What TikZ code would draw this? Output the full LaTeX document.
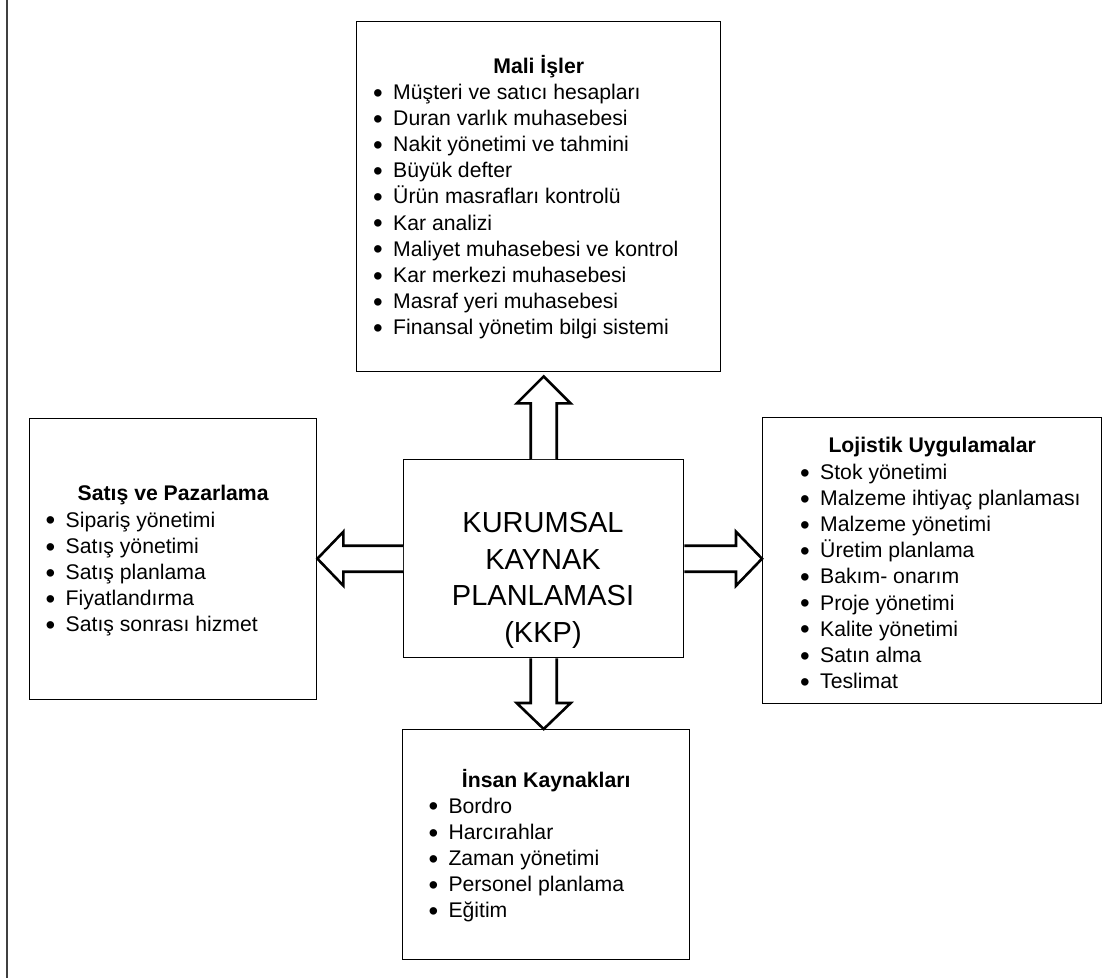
\documentclass[tikz,border=0pt]{standalone}
\usepackage{fontspec}
\setmainfont{Liberation Sans}
\usetikzlibrary{calc}
\newcommand{\listdot}{\makebox[20pt][l]{\raisebox{-2.8pt}{\scalebox{1.3}{•}}}}
\begin{document}
\begin{tikzpicture}[x=1pt,y=-1pt,
  panel/.style={draw=black, line width=1.4pt, fill=white, inner sep=0pt, anchor=north west},
  itemtext/.style={anchor=base west, inner sep=0pt, font=\fontsize{21.2}{26}\selectfont},
  titletext/.style={anchor=base, inner sep=0pt, font=\fontsize{21.2}{26}\selectfont\bfseries},
  centertext/.style={anchor=base, inner sep=0pt, font=\fontsize{29}{36}\selectfont},
  blockarrow/.style={draw=black, line width=2.6pt, fill=white, line join=miter}]
\useasboundingbox (0,0) rectangle (1110,978);

% page rule on the left
\draw[line width=2pt, black!75] (6.7,0) -- (6.7,978);

% panels
\node[panel, minimum width=364pt, minimum height=350pt] (mali) at (356,21) {};
\node[panel, minimum width=287pt, minimum height=281pt] (sales) at (29,418) {};
\node[panel, minimum width=280pt, minimum height=198pt] (kkp) at (403,459) {};
\node[panel, minimum width=339pt, minimum height=286pt] (logi) at (762,417) {};
\node[panel, minimum width=287pt, minimum height=230pt] (hr) at (402,729) {};

% central title
\foreach [count=\i] \t in {KURUMSAL,KAYNAK,PLANLAMASI,(KKP)}
  \node[centertext] (kkpline\i) at (543,{532.4+36.7*(\i-1)}) {\t};

% Mali İşler
\node[titletext] (malititle) at (mali.center |- 0,73.5) {Mali İşler};
\foreach [count=\i] \t in {Müşteri ve satıcı hesapları,Duran varlık muhasebesi,
  Nakit yönetimi ve tahmini,Büyük defter,Ürün masrafları kontrolü,Kar analizi,
  Maliyet muhasebesi ve kontrol,Kar merkezi muhasebesi,Masraf yeri muhasebesi,
  Finansal yönetim bilgi sistemi}
  \node[itemtext] (mali\i) at (373,{99.5+26.1*(\i-1)}) {\listdot\t};

% Satış ve Pazarlama
\node[titletext] (salestitle) at (sales.center |- 0,500.5) {Satış ve Pazarlama};
\foreach [count=\i] \t in {Sipariş yönetimi,Satış yönetimi,Satış planlama,
  Fiyatlandırma,Satış sonrası hizmet}
  \node[itemtext] (sales\i) at (45.5,{527+26.2*(\i-1)}) {\listdot\t};

% Lojistik Uygulamalar
\node[titletext] (logititle) at (logi.center |- 0,452.5) {Lojistik Uygulamalar};
\foreach [count=\i] \t in {Stok yönetimi,Malzeme ihtiyaç planlaması,Malzeme yönetimi,
  Üretim planlama,Bakım- onarım,Proje yönetimi,Kalite yönetimi,Satın alma,Teslimat}
  \node[itemtext] (logi\i) at (800,{479.5+26.1*(\i-1)}) {\listdot\t};

% İnsan Kaynakları
\node[titletext] (hrtitle) at (hr.center |- 0,787) {İnsan Kaynakları};
\foreach [count=\i] \t in {Bordro,Harcırahlar,Zaman yönetimi,Personel planlama,Eğitim}
  \node[itemtext] (hr\i) at (428.3,{813+26.2*(\i-1)}) {\listdot\t};

% block arrows out of the central box
\coordinate (upbase) at (kkp.north);
\coordinate (uptip) at ($(kkp.north |- mali.south)+(0,4)$);
\draw[blockarrow] ($(upbase)+(-13,0)$) -- ($(uptip)+(-13,27)$) -- ($(uptip)+(-27,27)$)
  -- (uptip) -- ($(uptip)+(27,27)$) -- ($(uptip)+(13,27)$) -- ($(upbase)+(13,0)$);

\coordinate (dnbase) at (kkp.south);
\coordinate (dntip) at (kkp.south |- hr.north);
\draw[blockarrow] ($(dnbase)+(-13,0)$) -- ($(dntip)+(-13,-26)$) -- ($(dntip)+(-27,-26)$)
  -- (dntip) -- ($(dntip)+(27,-26)$) -- ($(dntip)+(13,-26)$) -- ($(dnbase)+(13,0)$);

\coordinate (ltbase) at (kkp.west);
\coordinate (lttip) at (sales.east |- kkp.west);
\draw[blockarrow] ($(ltbase)+(0,-13)$) -- ($(lttip)+(26,-13)$) -- ($(lttip)+(26,-27)$)
  -- (lttip) -- ($(lttip)+(26,27)$) -- ($(lttip)+(26,13)$) -- ($(ltbase)+(0,13)$);

\coordinate (rtbase) at (kkp.east);
\coordinate (rttip) at (logi.west |- kkp.east);
\draw[blockarrow] ($(rtbase)+(0,-13)$) -- ($(rttip)+(-26,-13)$) -- ($(rttip)+(-26,-27)$)
  -- (rttip) -- ($(rttip)+(-26,27)$) -- ($(rttip)+(-26,13)$) -- ($(rtbase)+(0,13)$);
\end{tikzpicture}
\end{document}
